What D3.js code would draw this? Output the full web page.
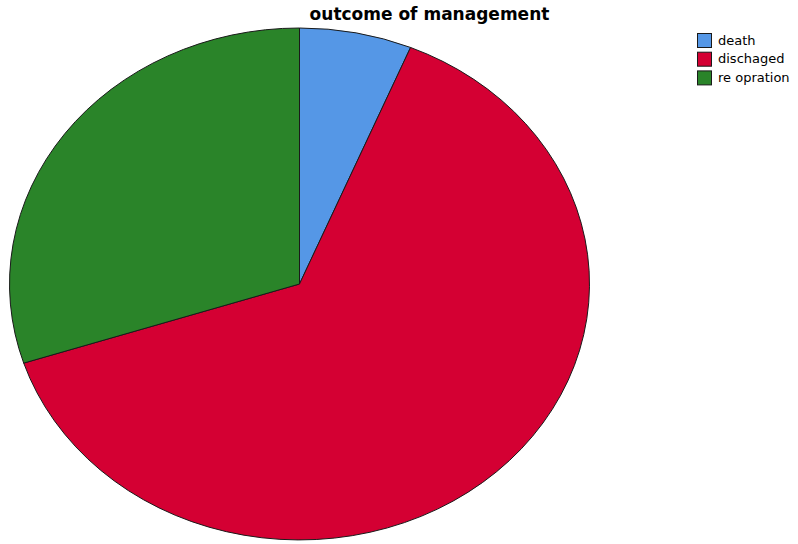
<!DOCTYPE html>
<html>
<head>
<meta charset="utf-8">
<script src="https://cdn.jsdelivr.net/npm/d3@7"></script>
<style>
  html, body { margin: 0; padding: 0; background: #fff; }
  svg { display: block; }
</style>
</head>
<body>
<svg id="chart" width="798" height="544"></svg>
<script>
// Outcome counts per category
const categories = ["death", "dischaged", "re opration"];
const counts = [5, 51, 24];
const colors = ["#5597E6", "#D40033", "#2A8429"];
const title = "outcome of management";

const svg = d3.select("#chart");

// Elliptical pie: unit-radius arcs scaled to the ellipse
const cx = 299.5, cy = 284, rx = 290, ry = 256;

const pie = d3.pie().sort(null).value(d => d.value);
const arc = d3.arc().innerRadius(0).outerRadius(1);
const color = d3.scaleOrdinal().domain(categories).range(colors);

const data = categories.map((c, i) => ({ name: c, value: counts[i] }));

const g = svg.append("g")
  .attr("transform", `translate(${cx},${cy}) scale(${rx},${ry})`);

g.selectAll("path")
  .data(pie(data))
  .join("path")
  .attr("d", arc)
  .attr("fill", d => color(d.data.name))
  .attr("stroke", "#1a1a1a")
  .attr("stroke-width", 1)
  .attr("vector-effect", "non-scaling-stroke");

// Title
svg.append("text")
  .attr("x", 429.5)
  .attr("y", 20)
  .attr("text-anchor", "middle")
  .attr("font-family", "DejaVu Sans, Verdana, sans-serif")
  .attr("font-weight", "bold")
  .attr("font-size", 17)
  .attr("fill", "#000")
  .text(title);

// Legend
const legend = svg.append("g").attr("transform", "translate(697,33)");
const rows = legend.selectAll("g")
  .data(categories)
  .join("g")
  .attr("transform", (d, i) => `translate(0,${i * 18.7})`);

rows.append("rect")
  .attr("x", 0.5).attr("y", 0.5)
  .attr("width", 14).attr("height", 14)
  .attr("fill", d => color(d))
  .attr("stroke", "#1a1a1a")
  .attr("stroke-width", 1);

rows.append("text")
  .attr("x", 21)
  .attr("y", 11.5)
  .attr("font-family", "DejaVu Sans, Verdana, sans-serif")
  .attr("font-size", 13)
  .attr("fill", "#000")
  .text(d => d);
</script>
</body>
</html>
